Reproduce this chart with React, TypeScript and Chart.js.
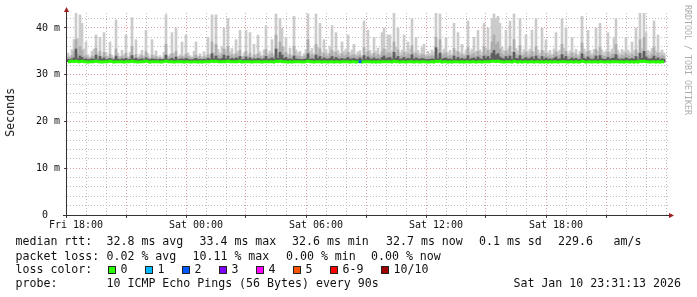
import React, { useEffect, useRef } from "react";
import { Chart, registerables } from "chart.js";

Chart.register(...registerables);

// ---- time axis (hours relative to Fri 18:00) ----
const START_HOUR = -0.4;
const STEP_HOURS = 0.1;
const X_MIN = -0.45;
const X_MAX = 29.6;
const xTickHours = [0, 6, 12, 18, 24];
const xTickLabels = ["Fri 18:00", "Sat 00:00", "Sat 06:00", "Sat 12:00", "Sat 18:00"];

// ---- value axis (ms) ----
const Y_MAX = 43.2;
const yTickValues = [0, 10, 20, 30, 40];
const yTickLabels = ["0  ", "10 m", "20 m", "30 m", "40 m"];

// ---- series ----
const medianRtt = [
  32.8, 32.8, 32.9, 32.8, 32.9, 32.8, 32.8, 32.9, 32.8, 32.8,
  32.7, 32.8, 32.8, 32.8, 32.9, 32.8, 32.8, 32.7, 32.8, 32.8,
  32.8, 32.9, 32.8, 32.7, 32.8, 32.8, 32.8, 32.8, 32.7, 32.8,
  32.8, 32.8, 32.9, 32.8, 32.8, 32.7, 32.8, 32.8, 32.8, 32.9,
  32.8, 32.7, 32.8, 32.8, 32.8, 32.8, 32.7, 32.7, 32.8, 32.9,
  32.8, 32.8, 32.8, 32.7, 32.8, 32.8, 32.8, 32.8, 32.7, 32.8,
  32.8, 32.7, 32.7, 32.8, 32.8, 32.7, 32.8, 32.7, 32.8, 32.8,
  32.8, 32.8, 32.9, 32.8, 32.9, 32.8, 32.8, 32.8, 32.8, 32.8,
  32.9, 32.8, 32.8, 32.8, 32.8, 32.8, 32.9, 32.7, 32.8, 32.8,
  32.8, 32.8, 32.7, 32.8, 32.8, 32.8, 32.8, 32.7, 32.8, 32.8,
  32.8, 32.8, 32.8, 32.7, 32.9, 32.8, 32.9, 32.8, 32.8, 32.8,
  32.7, 32.8, 32.7, 32.8, 32.8, 32.8, 32.8, 32.7, 32.7, 32.8,
  32.9, 32.8, 32.8, 32.7, 32.8, 32.8, 32.8, 32.7, 32.8, 32.8,
  32.7, 32.8, 32.8, 32.7, 32.8, 32.8, 32.7, 32.8, 32.8, 32.8,
  32.8, 32.7, 32.8, 32.8, 32.7, 32.8, 32.8, 32.7, 32.8, 32.8,
  32.8, 32.8, 32.7, 32.8, 32.7, 32.8, 32.7, 32.8, 32.8, 32.8,
  32.8, 32.8, 32.7, 32.9, 32.8, 32.8, 32.7, 32.8, 32.8, 32.7,
  32.8, 32.8, 32.8, 32.7, 32.8, 32.8, 32.7, 32.8, 32.8, 32.7,
  32.7, 32.7, 32.8, 32.7, 32.9, 32.8, 32.9, 32.7, 32.8, 32.8,
  32.7, 32.8, 32.7, 32.8, 32.8, 32.8, 32.7, 32.8, 32.7, 32.8,
  32.8, 32.7, 32.8, 32.8, 32.7, 32.8, 32.8, 32.7, 32.8, 32.8,
  32.8, 32.8, 32.9, 32.9, 32.8, 32.9, 32.8, 32.8, 32.7, 32.8,
  32.8, 32.8, 32.7, 32.9, 32.8, 32.7, 32.8, 32.7, 32.8, 32.8,
  32.7, 32.8, 32.8, 32.7, 32.8, 32.8, 32.7, 32.8, 32.7, 32.8,
  32.7, 32.8, 32.7, 32.8, 32.8, 32.7, 32.8, 32.8, 32.8, 32.8,
  32.7, 32.8, 32.8, 32.7, 32.8, 32.7, 32.7, 32.9, 32.8, 32.7,
  32.8, 32.8, 32.7, 32.8, 32.8, 32.7, 32.8, 32.8, 32.7, 32.7,
  32.8, 32.7, 32.8, 32.8, 32.8, 32.8, 32.7, 32.8, 32.7, 32.8,
  32.8, 32.7, 32.8, 32.7, 32.8, 32.7, 32.9, 32.8, 32.9, 32.8,
  32.8, 32.7, 32.8, 32.8, 32.7, 32.8, 32.7, 32.8, 32.7,
];

const smokeCore = [
  33.3, 33.2, 33.4, 33.6, 35.5, 33.4, 34.0, 33.7, 33.3, 33.4,
  33.2, 33.3, 33.4, 33.3, 34.2, 33.2, 33.9, 33.3, 33.6, 33.2,
  33.3, 33.5, 33.2, 33.2, 34.0, 33.3, 33.2, 33.4, 33.3, 33.5,
  33.2, 33.3, 34.1, 33.3, 33.5, 33.2, 33.3, 33.4, 33.2, 33.6,
  33.3, 33.2, 33.4, 33.3, 33.3, 33.2, 33.3, 33.2, 33.3, 34.2,
  33.2, 33.3, 33.5, 33.2, 33.8, 33.2, 33.3, 33.4, 33.2, 33.5,
  33.3, 33.2, 33.2, 33.3, 33.5, 33.2, 33.3, 33.2, 33.3, 33.2,
  33.5, 33.3, 34.5, 33.4, 34.0, 33.4, 33.3, 33.5, 34.2, 33.4,
  34.0, 33.3, 33.5, 33.3, 33.6, 33.4, 33.9, 33.2, 33.3, 33.8,
  33.3, 33.6, 33.2, 33.4, 33.3, 33.5, 33.4, 33.2, 33.4, 33.9,
  33.3, 33.4, 33.6, 33.3, 35.5, 33.5, 34.8, 34.2, 33.5, 33.7,
  33.3, 33.4, 33.2, 34.0, 33.4, 33.3, 33.3, 33.2, 33.3, 33.4,
  34.5, 33.3, 33.4, 33.3, 34.2, 33.5, 33.9, 33.3, 33.6, 33.4,
  33.3, 33.5, 33.9, 33.3, 33.7, 33.4, 33.3, 33.5, 33.3, 33.4,
  33.7, 33.3, 33.4, 33.5, 33.3, 33.3, 33.6, 33.2, 34.1, 33.3,
  33.8, 33.4, 33.3, 33.6, 33.3, 33.4, 33.2, 33.7, 34.0, 33.4,
  33.6, 33.7, 33.3, 34.8, 33.5, 33.9, 33.3, 33.4, 33.7, 33.3,
  33.5, 33.4, 34.3, 33.3, 33.6, 33.4, 33.3, 33.5, 33.4, 33.2,
  33.3, 33.3, 33.4, 33.3, 35.8, 33.4, 34.6, 33.3, 33.5, 33.6,
  33.3, 33.4, 33.2, 34.0, 33.3, 33.7, 33.3, 33.5, 33.3, 33.4,
  34.1, 33.3, 33.5, 33.6, 33.3, 33.8, 33.4, 33.3, 34.0, 33.5,
  33.9, 33.4, 34.6, 35.2, 34.2, 34.5, 33.8, 33.5, 33.4, 33.9,
  33.5, 34.0, 33.3, 34.8, 33.5, 33.4, 34.1, 33.3, 33.4, 33.7,
  33.3, 33.5, 33.8, 33.3, 34.0, 33.4, 33.2, 33.9, 33.3, 33.6,
  33.3, 33.4, 33.2, 33.5, 33.8, 33.3, 33.4, 34.3, 33.5, 33.9,
  33.2, 33.3, 33.6, 33.3, 33.5, 33.2, 33.3, 34.5, 33.5, 33.3,
  33.8, 33.4, 33.2, 33.4, 34.0, 33.3, 34.1, 33.4, 33.3, 33.3,
  33.7, 33.3, 33.5, 33.6, 34.3, 33.4, 33.2, 33.4, 33.3, 33.6,
  33.4, 33.3, 33.5, 33.3, 33.9, 33.2, 34.6, 33.5, 35.0, 33.8,
  33.4, 33.3, 33.5, 34.0, 33.3, 33.6, 33.2, 33.4, 33.3,
];

const smokeMid = [
  33.8, 33.6, 34.2, 35.0, 37.5, 34.4, 36.0, 35.2, 33.9, 34.1,
  33.7, 33.5, 34.0, 33.8, 35.6, 33.7, 35.0, 33.6, 34.8, 33.9,
  33.6, 34.4, 33.7, 33.5, 35.5, 33.8, 33.6, 34.0, 33.7, 34.6,
  33.5, 33.9, 36.0, 33.7, 34.3, 33.6, 33.8, 34.1, 33.6, 34.9,
  33.8, 33.5, 34.2, 33.7, 33.9, 33.5, 33.7, 33.4, 33.8, 36.5,
  33.6, 33.8, 34.5, 33.7, 35.0, 33.5, 33.8, 34.0, 33.6, 34.4,
  33.9, 33.7, 33.5, 33.8, 34.2, 33.6, 33.9, 33.5, 33.8, 33.7,
  34.3, 33.8, 37.0, 34.0, 36.5, 34.2, 33.9, 34.4, 35.5, 34.0,
  36.0, 33.9, 34.3, 33.8, 34.5, 34.0, 35.2, 33.7, 33.9, 35.0,
  33.8, 34.6, 33.6, 34.2, 33.8, 34.5, 34.0, 33.7, 34.1, 35.4,
  33.9, 34.2, 34.6, 33.8, 38.5, 34.3, 37.0, 36.0, 34.4, 34.8,
  33.8, 34.3, 33.7, 36.0, 34.1, 33.9, 34.0, 33.6, 33.9, 34.2,
  37.5, 34.0, 34.3, 33.9, 36.5, 34.4, 35.5, 34.0, 34.6, 34.1,
  33.9, 34.5, 35.2, 34.0, 34.8, 34.1, 33.9, 34.5, 34.0, 34.2,
  34.8, 33.9, 34.1, 34.3, 33.8, 34.0, 34.2, 33.7, 35.8, 34.0,
  35.0, 34.1, 33.9, 34.6, 34.0, 34.3, 33.8, 34.9, 35.5, 34.2,
  34.7, 34.6, 34.0, 37.0, 34.4, 35.3, 33.9, 34.1, 34.8, 34.0,
  34.5, 34.2, 36.2, 34.0, 34.6, 34.1, 33.9, 34.3, 34.2, 33.8,
  34.0, 33.9, 34.1, 34.0, 38.0, 34.2, 37.5, 34.0, 34.3, 34.7,
  33.9, 34.1, 33.8, 35.6, 34.0, 34.9, 34.0, 34.3, 33.9, 34.1,
  35.8, 34.0, 34.3, 34.6, 34.0, 35.0, 34.2, 33.9, 36.0, 34.4,
  35.2, 34.2, 37.0, 38.5, 36.5, 37.0, 35.5, 34.5, 34.1, 35.0,
  34.3, 36.0, 34.0, 37.5, 34.4, 34.1, 36.2, 33.9, 34.2, 34.8,
  34.0, 34.3, 35.0, 33.9, 36.0, 34.2, 33.8, 35.2, 34.0, 34.5,
  33.9, 34.1, 33.7, 34.3, 34.9, 34.0, 34.2, 36.5, 34.4, 35.0,
  33.8, 34.0, 34.6, 33.9, 34.3, 33.7, 34.0, 36.8, 34.3, 33.9,
  35.0, 34.1, 33.8, 34.2, 35.4, 34.0, 35.8, 34.2, 33.9, 34.0,
  34.8, 33.9, 34.3, 34.5, 36.5, 34.1, 33.8, 34.2, 34.0, 34.6,
  34.2, 33.9, 34.4, 34.0, 35.3, 33.8, 37.5, 34.3, 38.0, 34.9,
  34.1, 33.9, 34.4, 35.8, 34.0, 34.6, 33.8, 34.1, 34.0,
];

const smokeMax = [
  34.6, 34.0, 35.4, 37.5, 43.2, 37.8, 42.8, 41.0, 35.5, 37.0,
  34.3, 33.8, 35.0, 35.5, 38.5, 34.5, 38.0, 34.0, 39.0, 34.8,
  34.0, 37.0, 34.2, 33.6, 41.7, 34.6, 33.9, 35.2, 34.3, 38.5,
  33.7, 34.8, 42.2, 34.1, 37.5, 33.8, 34.4, 35.2, 34.0, 39.5,
  34.5, 33.6, 37.5, 34.2, 35.1, 33.7, 34.1, 33.5, 34.8, 42.8,
  33.9, 34.4, 39.0, 34.6, 40.0, 33.8, 34.3, 37.0, 34.0, 38.5,
  34.7, 34.1, 33.8, 35.0, 37.0, 33.9, 34.5, 33.6, 34.9, 34.2,
  38.0, 34.3, 42.8, 34.8, 42.8, 35.4, 34.7, 36.0, 40.0, 35.2,
  42.0, 34.9, 35.6, 34.4, 37.5, 35.0, 39.5, 33.9, 34.7, 39.5,
  34.1, 39.0, 33.8, 36.5, 34.3, 38.5, 34.9, 34.0, 35.3, 40.5,
  34.5, 35.1, 37.5, 34.2, 43.0, 35.5, 42.0, 40.0, 35.9, 38.0,
  34.4, 35.7, 34.1, 42.5, 35.3, 34.7, 35.0, 33.9, 34.5, 35.4,
  43.0, 35.0, 35.6, 34.5, 43.0, 35.9, 41.0, 34.8, 37.5, 35.3,
  34.6, 36.0, 40.5, 34.9, 39.0, 35.2, 34.5, 37.0, 35.0, 35.5,
  38.5, 34.7, 35.3, 36.5, 34.4, 34.9, 35.1, 34.0, 41.5, 34.8,
  39.5, 35.2, 34.5, 38.0, 35.0, 35.7, 34.3, 39.0, 40.0, 35.4,
  38.5, 38.5, 35.1, 43.2, 35.9, 40.0, 34.7, 35.3, 38.5, 35.0,
  37.0, 35.5, 42.0, 34.9, 38.0, 35.2, 34.6, 35.8, 36.5, 34.3,
  35.0, 34.5, 35.3, 34.8, 43.2, 35.4, 43.0, 34.9, 35.5, 38.0,
  34.7, 35.2, 34.4, 41.0, 35.1, 39.0, 34.8, 36.5, 34.5, 35.3,
  41.5, 34.9, 35.5, 38.0, 35.0, 39.5, 35.3, 34.8, 41.0, 35.7,
  40.0, 35.4, 42.0, 43.0, 42.0, 42.5, 41.0, 35.9, 35.2, 39.5,
  35.5, 41.5, 34.9, 43.0, 35.6, 35.1, 42.0, 34.7, 35.4, 38.5,
  35.0, 35.5, 39.5, 34.8, 42.0, 35.3, 34.6, 40.0, 35.1, 37.5,
  34.7, 35.2, 34.4, 35.5, 39.0, 34.9, 35.3, 42.0, 35.7, 40.0,
  34.5, 35.1, 38.0, 34.8, 35.4, 34.3, 35.0, 42.5, 35.5, 34.9,
  39.5, 35.2, 34.6, 35.4, 40.0, 35.0, 41.0, 35.3, 34.7, 35.1,
  39.0, 34.9, 35.5, 38.0, 42.0, 35.2, 34.6, 35.4, 35.0, 38.0,
  35.3, 34.8, 37.0, 35.1, 40.0, 34.7, 43.2, 35.5, 43.2, 39.0,
  35.2, 34.9, 35.6, 41.5, 35.1, 38.5, 34.8, 35.3, 34.6,
];

const lossHours = [14.2];
const lossRtt = [32.8];
const lossPointColors = ["#0059ff"];

// ---- legend text ----
const medianTitle = "median rtt:";
const medianItems = ["32.8 ms avg", "33.4 ms max", "32.6 ms min", "32.7 ms now", "0.1 ms sd", "229.6", "am/s"];
const lossTitle = "packet loss:";
const lossItems = ["0.02 % avg", "10.11 % max", "0.00 % min", "0.00 % now"];
const lossColorTitle = "loss color:";
const legendLabels = ["0", "1", "2", "3", "4", "5", "6-9", "10/10"];
const legendColors = ["#26ff00", "#00b8ff", "#0059ff", "#7e00ff", "#ff00ff", "#ff5500", "#ff0000", "#a10000"];
const probeTitle = "probe:";
const probeText = "10 ICMP Echo Pings (56 Bytes) every 90s";
const stampText = "Sat Jan 10 23:31:13 2026";
const yTitle = "Seconds";
const watermark = "RRDTOOL / TOBI OETIKER";

// layout positions (pixels)
const medianItemX = [106.5, 199.5, 292, 386, 479, 558, 613.5];
const lossItemX = [106.5, 192.5, 286, 371];
const legendBoxX = [108, 145, 182, 219, 256, 293, 330, 381];

const MONO = '"DejaVu Sans Mono", monospace';
const MAJOR_GRID = "rgba(215,140,140,0.85)";
const MINOR_GRID = "rgba(175,175,175,0.8)";

const axesPlugin = {
  id: "rrdAxes",
  afterDatasetsDraw(chart: any) {
    const { ctx, chartArea: a } = chart;
    ctx.save();
    ctx.strokeStyle = "#333";
    ctx.lineWidth = 1;
    ctx.beginPath();
    ctx.moveTo(a.left - 0.5, a.top - 2);
    ctx.lineTo(a.left - 0.5, a.bottom + 3);
    ctx.moveTo(a.left - 4, a.bottom + 0.5);
    ctx.lineTo(a.right + 2, a.bottom + 0.5);
    ctx.stroke();
    ctx.fillStyle = "#9b1c1c";
    ctx.beginPath();
    ctx.moveTo(a.left - 0.5, a.top - 6);
    ctx.lineTo(a.left - 3, a.top - 1);
    ctx.lineTo(a.left + 2, a.top - 1);
    ctx.closePath();
    ctx.fill();
    ctx.beginPath();
    ctx.moveTo(a.right + 6, a.bottom + 0.5);
    ctx.lineTo(a.right + 1, a.bottom - 2);
    ctx.lineTo(a.right + 1, a.bottom + 3);
    ctx.closePath();
    ctx.fill();
    ctx.restore();
  },
};

function ChartCanvas() {
  const ref = useRef<HTMLCanvasElement | null>(null);
  useEffect(() => {
    if (!ref.current) return;
    const n = Math.min(medianRtt.length, smokeMax.length, smokeMid.length, smokeCore.length);
    const times: number[] = [];
    for (let i = 0; i < n; i++) times.push(+(START_HOUR + STEP_HOURS * i).toFixed(2));
    const bar = (top: number[]) => times.map((t, i) => ({ x: t, y: [medianRtt[i], top[i]] }));
    const chart = new Chart(ref.current, {
      type: "bar",
      data: {
        datasets: [
          {
            type: "line",
            data: times.map((t, i) => ({ x: t, y: medianRtt[i] })),
            borderColor: "#26ff00",
            borderWidth: 3,
            pointRadius: 0,
            tension: 0,
            order: 0,
          } as any,
          {
            type: "line",
            data: lossHours.map((t, i) => ({ x: t, y: lossRtt[i] })),
            showLine: false,
            pointStyle: "rect",
            pointRadius: 2,
            pointBackgroundColor: lossPointColors,
            pointBorderWidth: 0,
            order: -1,
          } as any,
          { type: "bar", data: bar(smokeCore), backgroundColor: "#5e5e5e", order: 1 } as any,
          { type: "bar", data: bar(smokeMid), backgroundColor: "#adadad", order: 2 } as any,
          { type: "bar", data: bar(smokeMax), backgroundColor: "#cbcbcb", order: 3 } as any,
        ],
      },
      options: {
        animation: false,
        responsive: false,
        maintainAspectRatio: false,
        devicePixelRatio: 1,
        datasets: { bar: { grouped: false, barPercentage: 1, categoryPercentage: 1, borderWidth: 0 } } as any,
        layout: { padding: { left: 0, top: 13, right: 29, bottom: 62 } },
        plugins: { legend: { display: false }, tooltip: { enabled: false }, title: { display: false } },
        scales: {
          x: {
            type: "linear",
            min: X_MIN,
            max: X_MAX,
            offset: false,
            afterBuildTicks: (s: any) => {
              const t = [];
              for (let h = 0; h <= 29; h++) t.push({ value: h });
              s.ticks = t;
            },
            afterFit: (s: any) => {
              s.height = 20;
            },
            grid: {
              color: (c: any) => (c.tick && c.tick.value % 3 === 0 ? MAJOR_GRID : MINOR_GRID),
              lineWidth: 1,
              drawTicks: true,
              tickLength: 3,
              tickColor: (c: any) => (c.tick && c.tick.value % 3 === 0 ? "#444" : "rgba(0,0,0,0)"),
              borderDash: [1, 2],
            } as any,
            border: { display: false, dash: [1, 2] } as any,
            ticks: {
              autoSkip: false,
              maxRotation: 0,
              padding: 1,
              color: "#111",
              font: { family: MONO, size: 10 },
              callback: (v: any) => {
                const k = xTickHours.indexOf(Number(v));
                return k >= 0 ? xTickLabels[k] : "";
              },
            },
          },
          y: {
            type: "linear",
            min: 0,
            max: Y_MAX,
            afterBuildTicks: (s: any) => {
              const t = [];
              for (let v = 0; v <= 42; v += 2) t.push({ value: v });
              s.ticks = t;
            },
            afterFit: (s: any) => {
              s.width = 67;
            },
            grid: {
              color: (c: any) => (c.tick && c.tick.value % 10 === 0 ? MAJOR_GRID : MINOR_GRID),
              lineWidth: 1,
              drawTicks: true,
              tickLength: 3,
              tickColor: (c: any) => (c.tick && c.tick.value % 10 === 0 ? "#444" : "rgba(0,0,0,0)"),
              borderDash: [1, 2],
            } as any,
            border: { display: false, dash: [1, 2] } as any,
            ticks: {
              autoSkip: false,
              padding: 4,
              color: "#111",
              font: { family: MONO, size: 10 },
              callback: (v: any) => {
                const k = yTickValues.indexOf(Number(v));
                return k >= 0 ? yTickLabels[k] : "";
              },
            },
          },
        },
      },
      plugins: [axesPlugin],
    });
    return () => chart.destroy();
  }, []);
  return <canvas ref={ref} width={697} height={297} style={{ width: 697, height: 297, display: "block" }} />;
}

export default function App() {
  const text: React.CSSProperties = {
    position: "absolute",
    font: `11.6px ${MONO}`,
    lineHeight: "14px",
    whiteSpace: "pre",
    color: "#111",
  };
  return (
    <div style={{ position: "fixed", left: 0, top: 0, width: 697, height: 297, background: "#fff", overflow: "hidden" }}>
      <ChartCanvas />
      <div
        style={{
          ...text,
          left: 3,
          top: 88,
          writingMode: "vertical-rl",
          transform: "rotate(180deg)",
        }}
      >
        {yTitle}
      </div>
      <div
        style={{
          position: "absolute",
          left: 683,
          top: 5,
          font: `8.3px ${MONO}`,
          color: "#acacac",
          writingMode: "vertical-rl",
          whiteSpace: "pre",
        }}
      >
        {watermark}
      </div>
      <div style={{ ...text, left: 15.5, top: 234 }}>{medianTitle}</div>
      {medianItems.map((s, i) => (
        <div key={"m" + i} style={{ ...text, left: medianItemX[i], top: 234 }}>{s}</div>
      ))}
      <div style={{ ...text, left: 15.5, top: 248.5 }}>{lossTitle}</div>
      {lossItems.map((s, i) => (
        <div key={"l" + i} style={{ ...text, left: lossItemX[i], top: 248.5 }}>{s}</div>
      ))}
      <div style={{ ...text, left: 15.5, top: 262 }}>{lossColorTitle}</div>
      {legendLabels.map((lab, i) => (
        <React.Fragment key={lab}>
          <div
            style={{
              position: "absolute",
              left: legendBoxX[i],
              top: 266,
              width: 8,
              height: 8,
              boxSizing: "border-box",
              border: "1px solid #222",
              background: legendColors[i],
            }}
          />
          <div style={{ ...text, left: legendBoxX[i] + 12.5, top: 262 }}>{lab}</div>
        </React.Fragment>
      ))}
      <div style={{ ...text, left: 15.5, top: 276 }}>{probeTitle}</div>
      <div style={{ ...text, left: 106.5, top: 276 }}>{probeText}</div>
      <div style={{ ...text, right: 16, top: 276 }}>{stampText}</div>
    </div>
  );
}
